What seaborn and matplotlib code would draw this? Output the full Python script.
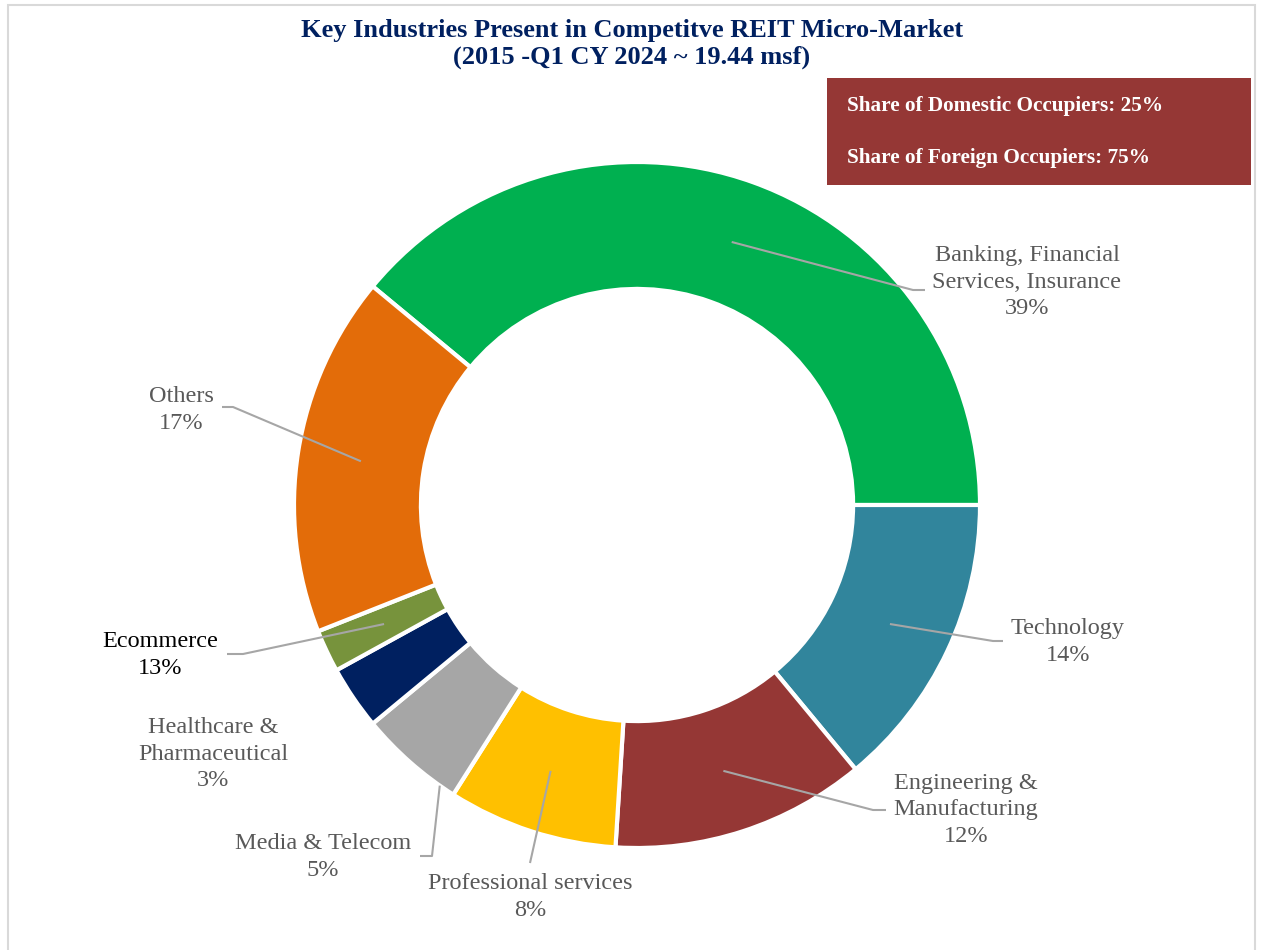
import numpy as np
import matplotlib.pyplot as plt
import seaborn as sns
from matplotlib.patches import Rectangle

# data (slice sizes from the ring angles, labels as printed)
industries = ["Banking, Financial\nServices, Insurance", "Technology",
              "Engineering &\nManufacturing", "Professional services",
              "Media & Telecom", "Healthcare &\nPharmaceutical",
              "Ecommerce", "Others"]
shares = [39, 14, 12, 8, 5, 3, 2, 17]
share_labels = ["39%", "14%", "12%", "8%", "5%", "3%", "13%", "17%"]
colors = ["#00B050", "#31859C", "#953735", "#FFC000",
          "#A6A6A6", "#002060", "#77933C", "#E36C09"]
box_lines = ["Share of Domestic Occupiers: 25%",
             "Share of Foreign Occupiers: 75%"]

W, H = 1262, 950
CX, CY, R = 637, 505, 343


def px(x, y):
    # pixel position -> data position (ring radius = 1)
    return (x - CX) / R, (CY - y) / R


sns.set_theme(style="white")
plt.rcParams["font.family"] = ["Liberation Serif", "DejaVu Serif"]

fig = plt.figure(figsize=(W / 100, H / 100), dpi=100)
ax = fig.add_axes([0, 0, 1, 1])

wedges, _ = ax.pie(shares, colors=colors, radius=1,
                   startangle=360 * shares[0] / sum(shares), counterclock=False,
                   wedgeprops=dict(width=0.37, edgecolor="white", linewidth=3))

ax.set_xlim(px(0, 0)[0], px(W, 0)[0])
ax.set_ylim(px(0, H)[1], px(0, 0)[1])
ax.set_aspect("equal")
ax.axis("off")

# label layout: text centre (px), elbow points (px), (fraction along slice, radius)
layout = [
    ((1027, 282), [(913, 290), (925, 290)], (0.5, 0.815)),
    ((1068, 642), [(993, 641), (1003, 641)], (0.5, 0.815)),
    ((966, 810), [(873, 810), (886, 810)], (0.5, 0.815)),
    ((530, 897), [(530, 863)], (0.5, 0.815)),
    ((323, 857), [(432, 856), (420, 856)], (0.15, 1.0)),
    ((213, 754), [], None),
    ((160, 655), [(243, 654), (227, 654)], (0.5, 0.815)),
    ((181, 410), [(233, 407), (222, 407)], (0.5, 0.815)),
]

for w, name, lab, (tpos, elbow, start) in zip(wedges, industries, share_labels, layout):
    col = "black" if name == "Ecommerce" else "#595959"
    tx, ty = px(*tpos)
    ax.text(tx, ty, f"{name}\n{lab}", ha="center", va="center",
            multialignment="center", fontsize=17.5, color=col, linespacing=1.32)
    if start is None:
        continue
    frac, rr = start
    ang = np.deg2rad(w.theta2 - frac * (w.theta2 - w.theta1))
    xs = [rr * np.cos(ang)] + [px(*p)[0] for p in elbow]
    ys = [rr * np.sin(ang)] + [px(*p)[1] for p in elbow]
    ax.plot(xs, ys, color="#A6A6A6", lw=1.5, solid_capstyle="butt")

# title
fig.text(632 / W, 1 - 44 / H,
         "Key Industries Present in Competitve REIT Micro-Market\n(2015 -Q1 CY 2024 ~ 19.44 msf)",
         ha="center", va="center", fontsize=19, fontweight="bold",
         color="#002060", linespacing=1.22)

# occupier share box
fig.patches.append(Rectangle((827 / W, 1 - 185 / H), (1251 - 827) / W, (185 - 78) / H,
                             transform=fig.transFigure, facecolor="#953735",
                             edgecolor="none", zorder=5))
for i, line in enumerate(box_lines):
    fig.text(847 / W, 1 - (106 + 52 * i) / H, line, ha="left", va="center",
             fontsize=15.3, fontweight="bold", color="white", zorder=6)

# outer chart frame
fig.patches.append(Rectangle((8 / W, -0.01), (1255 - 8) / W, 1.01 - 5 / H,
                             transform=fig.transFigure, facecolor="none",
                             edgecolor="#D9D9D9", linewidth=1.5, zorder=0))

fig.savefig("out.png", dpi=100, facecolor="white")
